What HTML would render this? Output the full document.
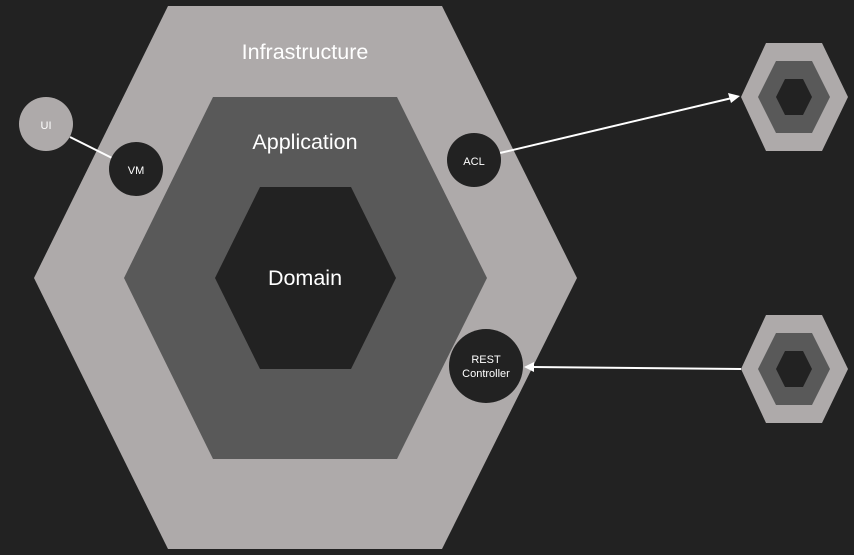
<!DOCTYPE html>
<html><head><style>body{margin:0;background:#222;}svg{display:block}</style></head><body>
<svg width="854" height="555" viewBox="0 0 854 555" font-family="Liberation Sans, sans-serif">
<rect width="854" height="555" fill="#222"/>
<polygon points="168,6 442,6 577,278 442,549 168,549 34,278" fill="#aeaaaa"/>
<polygon points="213,97 397,97 487,278 397,459 213,459 124,278" fill="#595959"/>
<polygon points="260,187 351,187 396,278 351,369 260,369 215,278" fill="#222"/>
<text x="305" y="59" fill="#fff" font-size="21.5" text-anchor="middle">Infrastructure</text>
<text x="305" y="149" fill="#fff" font-size="21.5" text-anchor="middle">Application</text>
<text x="305" y="285" fill="#fff" font-size="21.5" text-anchor="middle">Domain</text>
<g id="h"><polygon points="766,43 822,43 848,97 822,151 766,151 741,97" fill="#aeaaaa"/>
<polygon points="776,61 812,61 830,97 812,133 776,133 758,97" fill="#595959"/>
<polygon points="785,79 803,79 812,97 803,115 785,115 776,97" fill="#222"/></g>
<use href="#h" y="272"/>
<line x1="70" y1="137" x2="112" y2="158" stroke="#fff" stroke-width="2"/>
<circle cx="46" cy="124" r="27" fill="#aeaaaa"/>
<text x="46" y="129" fill="#fff" font-size="11" text-anchor="middle">UI</text>
<circle cx="136" cy="169" r="27" fill="#222"/>
<text x="136" y="174" fill="#fff" font-size="11" text-anchor="middle">VM</text>
<line x1="500" y1="153" x2="732" y2="98" stroke="#fff" stroke-width="2"/>
<polygon points="740,96 728,93 731,103" fill="#fff"/>
<circle cx="474" cy="160" r="27" fill="#222"/>
<text x="474" y="165" fill="#fff" font-size="11" text-anchor="middle">ACL</text>
<line x1="532" y1="367" x2="741" y2="369" stroke="#fff" stroke-width="2"/>
<polygon points="524,367 534,362 534,372" fill="#fff"/>
<circle cx="486" cy="366" r="37" fill="#222"/>
<text x="486" y="363" fill="#fff" font-size="11" text-anchor="middle">REST</text>
<text x="486" y="377" fill="#fff" font-size="11" text-anchor="middle">Controller</text>
</svg>
</body></html>
